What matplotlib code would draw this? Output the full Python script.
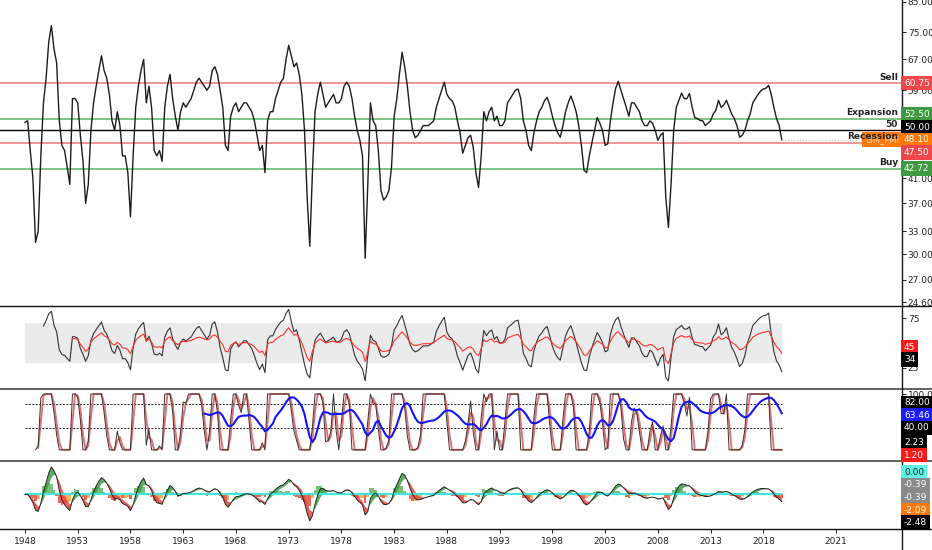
import numpy as np
import pandas as pd
import matplotlib
matplotlib.use('Agg')
import matplotlib.pyplot as plt
from matplotlib.lines import Line2D
from matplotlib.ticker import FixedLocator, NullLocator, FixedFormatter

# ISM manufacturing PMI, one reading per quarter (1948 Q1 .. 2019 Q4)
pmi = [
    51.7, 52, 46, 41,   31.5, 33, 45, 56,   62, 72, 77, 70,   66, 52, 47, 46,
    43, 40, 57, 57,     56, 49, 44, 37,     40, 50, 56, 60,   64, 68, 64, 62,
    58, 52, 50, 54,     51, 45, 45, 42,     35, 45, 55, 60,   64, 67, 56, 60,
    55, 46, 45, 46,     44, 55, 60, 63,     57, 53, 50, 54,   56, 55, 56, 57,
    59, 61, 62, 61,     60, 59, 60, 64,     65, 63, 59, 55,   47, 46, 53, 55,
    56, 54, 55, 56,     56, 55, 54, 52,     49, 46, 47, 42,   52, 54, 54, 57,
    59, 61, 62, 67,     71, 68, 65, 66,     63, 58, 50, 38,   31, 42, 54, 58,
    61, 58, 55, 56,     57, 58, 56, 56,     57, 60, 61, 60,   57, 53, 50, 48,
    45, 29.5, 40, 56,   52, 51, 46, 39,     37.5, 38, 39, 43, 53, 57, 63, 69,
    65, 60, 54, 50,     48.5, 49, 50, 51,   51, 51, 51.5, 52, 55, 57, 59, 61,
    58, 57, 56.5, 55,   52, 49.5, 45.5, 47, 48.5, 49, 46.6, 42, 39.5, 45, 54, 52,
    54, 55, 52, 53,     51, 51, 52, 56,     57, 58, 59, 59.3, 57, 52, 50, 47,
    46, 49.5, 52, 54,   55, 56.5, 57.3, 55.5, 53, 51, 49.5, 48.6, 51, 54, 56, 57.6,
    56, 54, 51, 47,     42.4, 42, 45, 47.5, 50, 52.7, 51.5, 50, 47, 47.3, 52, 56,
    59.5, 61.2, 59, 57, 55, 53, 56, 56,     55, 54, 52, 51,   51, 52, 51.5, 50,
    48, 49, 49.5, 38,   33.5, 40, 50, 55,   56.6, 58.3, 57, 57, 58.2, 55, 52.7, 52.5,
    52.1, 52, 51, 51.5, 52, 53.5, 54.3, 56.6, 55, 55.5, 56.6, 55, 53.5, 52.5, 51, 48.6,
    49, 50, 52, 53.5,   56, 57, 58, 58.8,   59.3, 59.5, 60.2, 58, 55, 52.5, 51, 48.1,
]
start_year = 1948

year_ticks = [1948, 1953, 1958, 1963, 1968, 1973, 1978, 1983, 1988, 1993, 1998, 2003, 2008, 2013, 2018]
future_label = '2021'

levels = [60.75, 52.50, 50.00, 47.50, 42.72]
level_names = ['Sell', 'Expansion', '50', 'Recession', 'Buy']
level_colors = ['#f28b8b', '#72bf76', '#000000', '#f28b8b', '#72bf76']
level_boxes = ['#f0474a', '#3d9a40', '#000000', '#f0474a', '#3d9a40']
last_pmi = 48.10
main_ticks = [85, 75, 67, 59, 41, 37, 33, 30, 27, 24.6]

rsi_labels = [45, 34]
stoch_levels = [82, 40]
stoch_labels = [82.00, 63.46, 40.00, 2.23, 1.20]
macd_labels = [0.00, -0.39, -0.39, -2.09, -2.48]

W, H = 932, 550
AXIS_X = 901.5

t = start_year + np.arange(len(pmi)) * 0.25
s = pd.Series(pmi, dtype=float)


def rsi(x, n):
    d = x.diff()
    up = d.clip(lower=0).ewm(alpha=1 / n, adjust=False, min_periods=n).mean()
    dn = (-d.clip(upper=0)).ewm(alpha=1 / n, adjust=False, min_periods=n).mean()
    return 100 - 100 / (1 + up / dn)


def stoch(x, n):
    lo = x.rolling(n).min()
    hi = x.rolling(n).max()
    return (x - lo) / (hi - lo) * 100


rsi_fast = rsi(s, 7)
rsi_slow = rsi(s, 18)
k_line = stoch(s, 5)
d_line = k_line.rolling(2).mean()
long_k = stoch(s, 66).rolling(4).mean()
ema_fast = s.ewm(span=4, adjust=False).mean()
ema_slow = s.ewm(span=9, adjust=False).mean()
macd = ema_fast - ema_slow
signal = macd.ewm(span=4, adjust=False).mean()
hist = macd - signal

plt.rcParams['font.family'] = ['DejaVu Sans']
fig = plt.figure(figsize=(W / 100, H / 100), dpi=100)
fig.patch.set_facecolor('white')


def pane(top, bottom):
    ax = fig.add_axes([0, 1 - bottom / H, AXIS_X / W, (bottom - top) / H])
    for sp in ax.spines.values():
        sp.set_visible(False)
    ax.set_xlim(1945.63, 2031.1)
    ax.tick_params(axis='x', bottom=False, labelbottom=False)
    ax.tick_params(axis='y', which='both', left=False, labelleft=False, right=True,
                   labelright=True, direction='out', length=3, width=0.7,
                   labelsize=6.5, pad=1.5, colors='#222222')
    ax.set_facecolor('white')
    return ax


ax1 = pane(0, 305)
ax2 = pane(306, 388)
ax3 = pane(389, 461)
ax4 = pane(461, 529)

# --- main pane
ax1.set_yscale('log')
ax1.set_ylim(24.33, 85.6)
ax1.yaxis.set_major_locator(FixedLocator(main_ticks))
ax1.yaxis.set_major_formatter(FixedFormatter(['%.2f' % v for v in main_ticks]))
ax1.yaxis.set_minor_locator(NullLocator())
for v, c in zip(levels, level_colors):
    ax1.axhline(v, color=c, lw=1.3 if c != '#000000' else 1.0, zorder=1)
ax1.hlines(last_pmi, t[-1], 2031, color='#bbbbbb', lw=0.7, linestyles=(0, (1, 2)))
ax1.plot(t, s, color='#1c1c1c', lw=1.0, zorder=3)
for v, name in zip(levels, level_names):
    ax1.text(898 / AXIS_X, v * 1.006, name, transform=ax1.get_yaxis_transform(),
             ha='right', va='bottom', fontsize=6.5, fontweight='bold', color='#222222', zorder=8)

# series name box for the PMI line, drawn under the level names
ax1.text(899 / AXIS_X, last_pmi, 'ISM_PMI', transform=ax1.get_yaxis_transform(),
         ha='right', va='center', fontsize=6, color='#ffd9b0', zorder=6, clip_on=False,
         bbox=dict(boxstyle='square,pad=0.35', fc='#ff7a0a', ec='none'))

# --- RSI pane
ax2.set_ylim(4.6, 87.2)
ax2.set_yticks([75, 25])
ax2.set_yticklabels(['75', '25'])
ax2.fill_between(t, 30, 70, color='#ebebeb', lw=0, zorder=0)
ax2.plot(t, rsi_fast, color='#333333', lw=0.8)
ax2.plot(t, rsi_slow, color='#ff3030', lw=0.8)

# --- stochastic pane
ax3.set_ylim(-20, 109)
ax3.set_yticks([100])
ax3.set_yticklabels(['100.00'])
for v in stoch_levels:
    ax3.hlines(v, t[0], t[-1], color='#222222', lw=0.7, linestyles=(0, (2, 1.5)))
ax3.plot(t, d_line, color='#e04040', lw=1.4, alpha=0.75)
ax3.plot(t, k_line, color='#333333', lw=0.7)
ax3.plot(t, long_k, color='#1414ff', lw=1.5)

# --- MACD pane
m = np.nanmax(macd)
ax4.set_ylim(-1.26 * m, 1.22 * m)
ax4.set_yticks([])
hcol = ['#5fb760' if h >= 0 else ('#ef4a3c' if h < hp else '#ffa040')
        for h, hp in zip(hist, hist.shift(1).fillna(0))]
ax4.bar(t, hist, width=0.25, color=hcol, lw=0, alpha=0.85)
ax4.fill_between(t, macd, signal, where=macd >= signal, interpolate=True, color='#3f9e46', alpha=0.85, lw=0)
ax4.fill_between(t, macd, signal, where=macd < signal, interpolate=True, color='#e8453c', alpha=0.85, lw=0)
ax4.hlines(0, t[0], t[-1], color='#40e8dc', lw=1.6, zorder=4)
ax4.plot(t, macd, color='#222222', lw=0.7, zorder=5)

ax4.tick_params(axis='x', bottom=True, labelbottom=True, direction='out', length=3,
                width=0.7, labelsize=6.5, pad=3, colors='#222222')
xt = year_ticks + [2024.9]
ax4.set_xticks(xt)
ax4.set_xticklabels([str(y) for y in year_ticks] + [future_label])


def spread(ys, gap, fixed=None):
    ys = list(ys)
    order = sorted(range(len(ys)), key=lambda i: -ys[i])
    for _ in range(300):
        for a, b in zip(order[:-1], order[1:]):
            d = ys[a] - ys[b]
            if d < gap:
                sh = gap - d
                if a == fixed:
                    ys[b] -= sh
                elif b == fixed:
                    ys[a] += sh
                else:
                    ys[a] += sh / 2
                    ys[b] -= sh / 2
    return ys


def tags(ax, values, texts, fcs, tcs, gap=12.6, fixed=None):
    x0 = ax.get_xlim()[0]
    ys = [ax.transData.transform((x0, v))[1] for v in values]
    ys = spread(ys, gap, fixed)
    for y, txt, fc, tc in zip(ys, texts, fcs, tcs):
        fig.text(904 / W, y / H, txt, ha='left', va='center', fontsize=6.5, color=tc,
                 bbox=dict(boxstyle='square,pad=0.3', fc=fc, ec='none'), zorder=10)


main_vals = levels[:3] + [last_pmi] + levels[3:]
main_txt = ['%.2f' % v for v in main_vals]
main_fc = level_boxes[:3] + ['#ff7a0a'] + level_boxes[3:]
tags(ax1, main_vals, main_txt, main_fc, ['white'] * 6, fixed=3)

tags(ax2, rsi_labels, ['%d' % v for v in rsi_labels], ['#ff1a1a', '#000000'], ['white', 'white'])
tags(ax3, stoch_labels, ['%.2f' % v for v in stoch_labels],
     ['#000000', '#1a1aff', '#000000', '#000000', '#ff1a1a'], ['white'] * 5)
mscale = m / 9.7
tags(ax4, [v * mscale for v in macd_labels], ['%.2f' % v for v in macd_labels],
     ['#5ef2e4', '#8a8a8a', '#8a8a8a', '#ff7a0a', '#000000'],
     ['#222222', 'white', 'white', 'white', 'white'])

# pane separators and the price-scale border
for ypx, c, lw in [(305.5, '#111111', 1.0), (388.5, '#555555', 1.3), (461, '#555555', 1.3), (529, '#111111', 1.0)]:
    fig.add_artist(Line2D([0, 1], [1 - ypx / H] * 2, color=c, lw=lw, transform=fig.transFigure))
fig.add_artist(Line2D([AXIS_X / W] * 2, [0, 1], color='#111111', lw=1.0, transform=fig.transFigure))

fig.savefig('out.png', dpi=100)
